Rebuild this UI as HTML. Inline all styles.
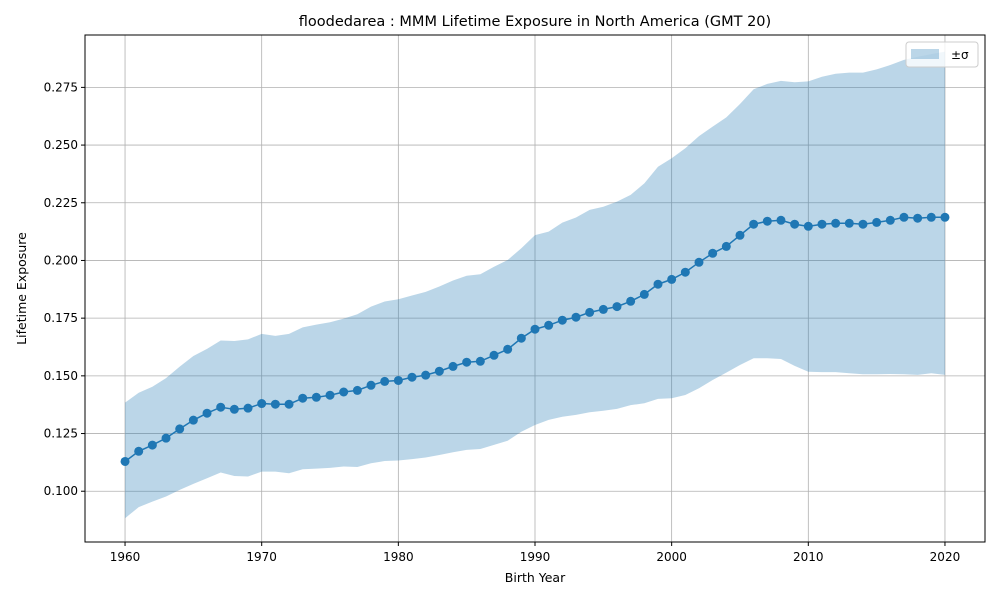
<!DOCTYPE html>
<html><head><meta charset="utf-8"><style>
body{margin:0;background:#fff}
svg{font-family:"DejaVu Sans","Liberation Sans",sans-serif}
</style></head><body>
<svg id="chart" width="1000" height="600" xmlns="http://www.w3.org/2000/svg"></svg>
<script>
const years = [];
for (let y = 1960; y <= 2020; y++) years.push(y);
const meanValues = [0.1129,0.1173,0.1200,0.1230,0.1270,0.1308,0.1338,0.1364,0.1355,0.1360,0.1380,0.1377,0.1377,0.1403,0.1407,0.1416,0.1430,0.1437,0.1459,0.1476,0.1480,0.1494,0.1503,0.1520,0.1541,0.1559,0.1563,0.1589,0.1615,0.1663,0.1702,0.1719,0.1741,0.1754,0.1775,0.1788,0.1800,0.1823,0.1853,0.1897,0.1918,0.1949,0.1992,0.2031,0.2061,0.2109,0.2157,0.2170,0.2174,0.2157,0.2148,0.2157,0.2161,0.2161,0.2157,0.2165,0.2174,0.2187,0.2183,0.2187,0.2187];
const upperValues = [0.1384,0.1427,0.1453,0.1490,0.1540,0.1586,0.1617,0.1653,0.1651,0.1658,0.1682,0.1673,0.1682,0.1710,0.1722,0.1732,0.1748,0.1767,0.1800,0.1822,0.1832,0.1848,0.1864,0.1887,0.1913,0.1934,0.1940,0.1973,0.2002,0.2053,0.2110,0.2125,0.2164,0.2186,0.2219,0.2233,0.2255,0.2284,0.2334,0.2406,0.2443,0.2486,0.2539,0.2580,0.2620,0.2678,0.2742,0.2765,0.2778,0.2772,0.2776,0.2796,0.2809,0.2814,0.2814,0.2828,0.2847,0.2869,0.2883,0.2894,0.2905];
const lowerValues = [0.0883,0.0931,0.0955,0.0977,0.1006,0.1032,0.1056,0.1081,0.1066,0.1064,0.1085,0.1085,0.1078,0.1095,0.1098,0.1101,0.1107,0.1105,0.1121,0.1131,0.1133,0.1139,0.1146,0.1157,0.1169,0.1179,0.1183,0.1201,0.1219,0.1258,0.1287,0.1309,0.1323,0.1331,0.1342,0.1349,0.1357,0.1373,0.1381,0.1400,0.1403,0.1417,0.1446,0.1482,0.1514,0.1547,0.1576,0.1576,0.1573,0.1543,0.1518,0.1516,0.1516,0.1511,0.1507,0.1507,0.1508,0.1507,0.1504,0.1511,0.1504];
const xTicks = [1960,1970,1980,1990,2000,2010,2020];
const yTicks = [0.100,0.125,0.150,0.175,0.200,0.225,0.250,0.275];

const L=85,R=985,T=35,B=542;
const xMin=1957.07,xMax=2022.93,yMin=0.0780,yMax=0.2977;
const sx=v=>L+(v-xMin)/(xMax-xMin)*(R-L);
const sy=v=>B-(v-yMin)/(yMax-yMin)*(B-T);
const svg=document.getElementById('chart');
const NS='http://www.w3.org/2000/svg';
function mk(tag,attrs,parent){const e=document.createElementNS(NS,tag);for(const k in attrs)e.setAttribute(k,attrs[k]);(parent||svg).appendChild(e);return e;}

const gridG=mk('g',{});


xTicks.forEach(t=>{
  const l=mk('line',{x1:sx(t),x2:sx(t),y1:T,y2:B,stroke:'#b0b0b0','stroke-width':0.8},gridG);
  
  
});
yTicks.forEach(t=>{
  const l=mk('line',{x1:L,x2:R,y1:sy(t),y2:sy(t),stroke:'#b0b0b0','stroke-width':0.8},gridG);
  
  
});

let d='';
years.forEach((y,i)=>{d+=(i?'L':'M')+sx(y)+','+sy(upperValues[i]);});
for(let i=years.length-1;i>=0;i--) d+='L'+sx(years[i])+','+sy(lowerValues[i]);
const band=mk('path',{d:d+'Z',fill:'#1f77b4','fill-opacity':0.3});



const line=mk('polyline',{points:years.map((y,i)=>sx(y)+','+sy(meanValues[i])).join(' '),fill:'none',stroke:'#1f77b4','stroke-width':1.5});


years.forEach((y,i)=>{
  const c=mk('circle',{cx:sx(y),cy:sy(meanValues[i]),r:4.5,fill:'#1f77b4'});
  
  
});

const frame=mk('rect',{x:L,y:T,width:R-L,height:B-T,fill:'none',stroke:'#000','stroke-width':1});



xTicks.forEach(t=>{
  mk('line',{x1:sx(t),x2:sx(t),y1:B,y2:B+4,stroke:'#000'});
  const tx=mk('text',{x:sx(t),y:B+19,'text-anchor':'middle','font-size':12});
  tx.textContent=t;
  
  
});
yTicks.forEach(t=>{
  mk('line',{x1:L-4,x2:L,y1:sy(t),y2:sy(t),stroke:'#000'});
  const tx=mk('text',{x:L-7,y:sy(t)+4,'text-anchor':'end','font-size':12});
  tx.textContent=t.toFixed(3);
  
  
});

const title=mk('text',{x:(L+R)/2,y:26,'text-anchor':'middle','font-size':14.5});
title.textContent='floodedarea : MMM Lifetime Exposure in North America (GMT 20)';


const xl=mk('text',{x:(L+R)/2,y:582,'text-anchor':'middle','font-size':12.5});
xl.textContent='Birth Year';


const yl=mk('text',{x:26,y:(T+B)/2,'text-anchor':'middle','font-size':12.5,transform:'rotate(-90 26 '+((T+B)/2)+')'});
yl.textContent='Lifetime Exposure';



const lg=mk('g',{});


mk('rect',{x:906,y:42,width:72,height:25,rx:3,fill:'#fff','fill-opacity':0.8,stroke:'#ccc'},lg);
const sw=mk('rect',{x:911,y:49,width:28,height:10,fill:'#1f77b4','fill-opacity':0.3},lg);


const lt=mk('text',{x:951,y:59,'font-size':12},lg);
lt.textContent='±σ';


</script>
</body></html>
